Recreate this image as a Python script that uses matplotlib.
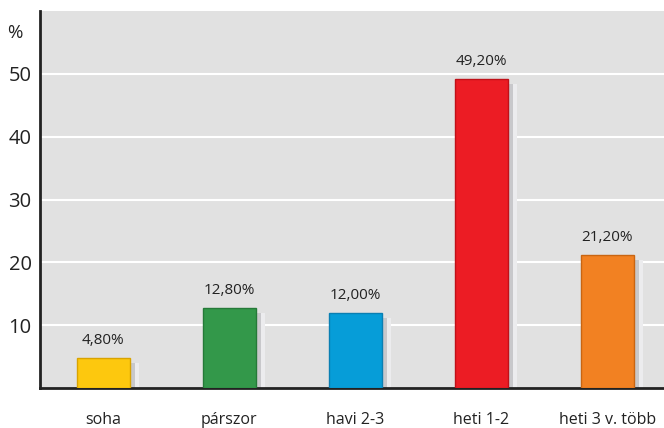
import matplotlib
matplotlib.use("Agg")
import matplotlib.pyplot as plt

categories = ["soha", "párszor", "havi 2-3", "heti 1-2", "heti 3 v. több"]
values = [4.8, 12.8, 12.0, 49.2, 21.2]
value_labels = ["4,80%", "12,80%", "12,00%", "49,20%", "21,20%"]
colors = ["#fdc80e", "#33984a", "#069dd8", "#ec1c24", "#f28122"]
edges = ["#d9a300", "#257a38", "#0a7fb3", "#c01018", "#c96512"]
yticks = [10, 20, 30, 40, 50]

plt.rcParams["font.family"] = ["Open Sans", "DejaVu Sans"]

fig = plt.figure(figsize=(6.64, 4.28), dpi=100)
ax = fig.add_axes([40 / 664, 40 / 428, 624 / 664, 377 / 428])
ax.set_facecolor("#e1e1e1")

x = list(range(len(categories)))
width = 0.42

# soft shadow strip to the right of each bar (dark inner, light outer)
for xi, v in zip(x, values):
    ax.bar(xi + width / 2 + 0.05, v - 0.8, width=0.05, bottom=0,
           color="#ececee", zorder=2)
    ax.bar(xi + width / 2 + 0.02, v - 0.8, width=0.04, bottom=0,
           color="#c8c8cb", zorder=2.1)

ax.bar(x, values, width=width, color=colors, edgecolor=edges, linewidth=1, zorder=3)

for xi, v, lab in zip(x, values, value_labels):
    ax.annotate(lab, (xi, v), xytext=(0, 7), textcoords="offset points",
                ha="center", va="bottom", fontsize=11, color="#222222")

ax.set_xlim(-0.5, 4.45)
ax.set_ylim(0, 60)
ax.set_yticks(yticks)
ax.set_yticklabels([str(t) for t in yticks], fontsize=14.5, color="#222222")
ax.set_xticks(x)
ax.set_xticklabels(categories, fontsize=11.5, color="#222222")
ax.tick_params(axis="x", length=0, pad=17)
ax.tick_params(axis="y", length=0, pad=6)
ax.yaxis.grid(True, color="white", linewidth=1.5, zorder=1)
ax.set_axisbelow(True)

for s in ["top", "right"]:
    ax.spines[s].set_visible(False)
ax.spines["left"].set_linewidth(2)
ax.spines["bottom"].set_linewidth(2)
ax.spines["left"].set_color("#222222")
ax.spines["bottom"].set_color("#222222")

ax.text(-0.028, 56.5, "%", transform=ax.get_yaxis_transform(), ha="right",
        va="center", fontsize=13.5, color="#222222")

fig.savefig("out.png", dpi=100)
